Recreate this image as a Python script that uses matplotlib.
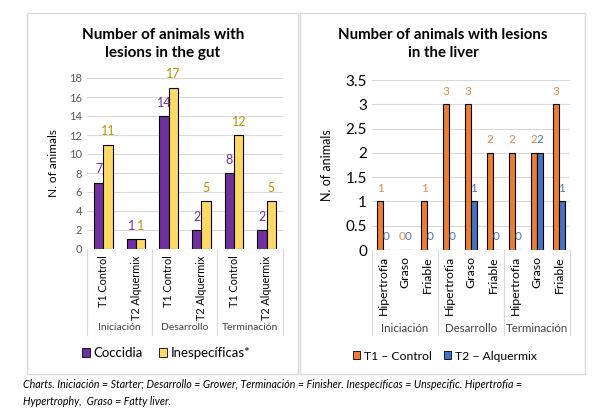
import matplotlib
matplotlib.use("Agg")
import matplotlib.pyplot as plt
import numpy as np

# Gut chart data
gut_categories = ["T1 Control", "T2 Alquermix"] * 3
gut_groups = ["Iniciación", "Desarrollo", "Terminación"]
coccidia = [7, 1, 14, 2, 8, 2]
inespecificas = [11, 1, 17, 5, 12, 5]

# Liver chart data
liver_categories = ["Hipertrofia", "Graso", "Friable"] * 3
liver_groups = ["Iniciación", "Desarrollo", "Terminación"]
t1_control = [1, 0, 1, 3, 3, 2, 2, 2, 3]
t2_alquermix = [0, 0, 0, 0, 1, 0, 0, 2, 1]

caption = ("Charts. Iniciación = Starter; Desarrollo = Grower, Terminación = Finisher. "
           "Inespecíficas = Unspecific. Hipertrofia =\nHypertrophy,  Graso = Fatty liver.")

W, H = 611, 413
plt.rcParams["font.family"] = ["Lato", "DejaVu Sans"]
fig = plt.figure(figsize=(W / 100, H / 100), dpi=100)


def px_axes(x0, y0, x1, y1):
    """Add axes given pixel box (top-left origin)."""
    return fig.add_axes([x0 / W, 1 - y1 / H, (x1 - x0) / W, (y1 - y0) / H])


def frame(x0, y0, x1, y1):
    rect = plt.Rectangle((x0 / W, 1 - y1 / H), (x1 - x0) / W, (y1 - y0) / H,
                         transform=fig.transFigure, fill=False,
                         edgecolor="#D9D9D9", linewidth=1)
    fig.add_artist(rect)


def vline(x, y0, y1):
    fig.add_artist(plt.Line2D([x / W, x / W], [1 - y0 / H, 1 - y1 / H],
                              transform=fig.transFigure, color="#D9D9D9", lw=0.8))


def style_axes(ax, ytick_size, xtick_size):
    for s in ax.spines.values():
        s.set_visible(False)
    ax.grid(axis="y", color="#D9D9D9", lw=0.8)
    ax.set_axisbelow(True)
    ax.tick_params(axis="both", length=0, colors="#595959")
    ax.tick_params(axis="y", labelsize=ytick_size)
    ax.tick_params(axis="x", labelcolor="black", labelsize=xtick_size, pad=4.5)


def draw_chart(ax, cats, s1, s2, c1, c2, lc1, lc2, width, lab_size):
    x = np.arange(len(cats))
    ax.bar(x - width / 2, s1, width, color=c1, edgecolor="black", lw=0.8)
    ax.bar(x + width / 2, s2, width, color=c2, edgecolor="black", lw=0.8)
    for xi, v in zip(x, s1):
        ax.annotate(str(v), (xi - width / 2, v), xytext=(0, 9.5), textcoords="offset points",
                    ha="center", va="center", color=lc1, fontsize=lab_size, annotation_clip=False)
    for xi, v in zip(x, s2):
        ax.annotate(str(v), (xi + width / 2, v), xytext=(0, 9.5), textcoords="offset points",
                    ha="center", va="center", color=lc2, fontsize=lab_size, annotation_clip=False)
    ax.set_xlim(-0.5, len(cats) - 0.5)
    ax.set_xticks(x)
    ax.set_xticklabels(cats, rotation=90, va="top")
    ax.axhline(0, color="#D9D9D9", lw=0.8)


# Left chart: gut
frame(27, 13, 298, 374)
ax1 = px_axes(87, 78, 283, 249)
draw_chart(ax1, gut_categories, coccidia, inespecificas,
           "#7030A0", "#FFD966", "#7030A0", "#BF9000", 0.29, 9)
ax1.set_ylim(0, 18)
ax1.set_yticks(range(0, 19, 2))
style_axes(ax1, 8, 7.8)
ax1.set_ylabel("N. of animals", fontsize=8.5, color="black", labelpad=7)
fig.text(163 / W, 1 - 44 / H, "Number of animals with\nlesions in the gut", ha="center",
         va="center", fontsize=11, fontweight="bold", linespacing=1.45)
for gx in [87, 152, 217, 283]:
    vline(gx, 249, 335)
for i, g in enumerate(gut_groups):
    fig.text((87 + 65.3 * (i + 0.5)) / W, 1 - 328 / H, g, ha="center", va="center",
             fontsize=7.5, color="#404040")
ax1.legend(handles=[plt.Rectangle((0, 0), 1, 1, fc="#7030A0", ec="black", lw=0.6),
                    plt.Rectangle((0, 0), 1, 1, fc="#FFD966", ec="black", lw=0.6)],
           labels=["Coccidia", "Inespecíficas*"], loc="center",
           bbox_to_anchor=((166 - 87) / 196, -(353 - 249) / 171), ncol=2, frameon=False,
           fontsize=9.5, handlelength=0.6, handleheight=0.6, handletextpad=0.3,
           columnspacing=1.2)

# Right chart: liver
frame(300, 13, 585, 374)
ax2 = px_axes(372, 80, 570, 250)
draw_chart(ax2, liver_categories, t1_control, t2_alquermix,
           "#ED7D31", "#4472C4", "#E0894A", "#4472C4", 0.27, 8.5)
ax2.set_ylim(0, 3.5)
ax2.set_yticks(np.arange(0, 3.6, 0.5))
ax2.set_yticklabels(["0", "0.5", "1", "1.5", "2", "2.5", "3", "3.5"])
style_axes(ax2, 11, 8.8)
ax2.tick_params(axis="y", labelcolor="black")
ax2.set_ylabel("N. of animals", fontsize=9, color="black", labelpad=9)
fig.text(443 / W, 1 - 44 / H, "Number of animals with lesions\nin the liver", ha="center",
         va="center", fontsize=10.8, fontweight="bold", linespacing=1.45)
for gx in [372, 438, 504, 570]:
    vline(gx, 250, 335)
for i, g in enumerate(liver_groups):
    fig.text((372 + 66 * (i + 0.5)) / W, 1 - 328 / H, g, ha="center", va="center",
             fontsize=8.3, color="#404040")
ax2.legend(handles=[plt.Rectangle((0, 0), 1, 1, fc="#ED7D31", ec="black", lw=0.6),
                    plt.Rectangle((0, 0), 1, 1, fc="#4472C4", ec="black", lw=0.6)],
           labels=["T1 – Control", "T2 – Alquermix"], loc="center",
           bbox_to_anchor=((445 - 372) / 198, -(356 - 250) / 170), ncol=2, frameon=False,
           fontsize=8.7, handlelength=0.6, handleheight=0.6, handletextpad=0.3,
           columnspacing=1.0)

fig.text(23 / W, 1 - 393 / H, caption, ha="left", va="center", fontsize=7.7,
         style="italic", linespacing=1.75)

fig.savefig("out.png", dpi=100)
